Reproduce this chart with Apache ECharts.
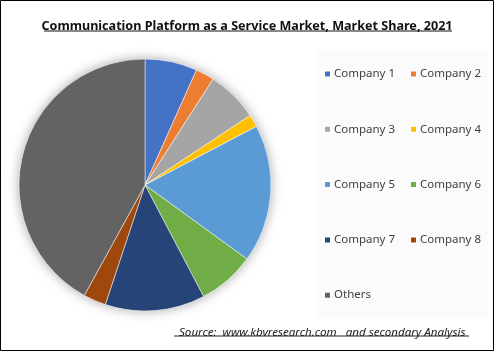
<!DOCTYPE html>
<html><head><meta charset="utf-8">
<script src="https://cdn.jsdelivr.net/npm/echarts@6/dist/echarts.min.js"></script>
<style>html,body{margin:0;padding:0;background:#fff}#c{width:494px;height:351px}</style>
</head><body><div id="c"></div>
<script>
const categories = ['Company 1','Company 2','Company 3','Company 4','Company 5','Company 6','Company 7','Company 8','Others'];
const shares = [6.7, 2.4, 6.6, 1.6, 17.7, 7.3, 12.8, 2.9, 42.0];
const colors = ['#4472C4','#ED7D31','#A5A5A5','#FFC000','#5B9BD5','#70AD47','#264478','#9E480E','#636363'];
const titleText = 'Communication Platform as a Service Market, Market Share, 2021';
const sourceText = 'Source:  www.kbvresearch.com   and secondary Analysis';

const chart = echarts.init(document.getElementById('c'));
const font = '"Noto Sans", sans-serif';
const legendCommon = {
  orient: 'vertical', top: 68, padding: 0, itemWidth: 7, itemHeight: 7, itemGap: 43.3,
  icon: 'rect', textStyle: {fontFamily: font, fontSize: 11.5, color: '#404040', padding: [0,0,0,-2]}
};
chart.setOption({
  animation: false,
  backgroundColor: '#fff',
  title: [{
    text: titleText, left: 'center', top: 15,
    textStyle: {fontFamily: font, fontWeight: 'bold', fontSize: 12.6, color: '#111'}
  }, {
    text: sourceText, left: 174, top: 322,
    textStyle: {fontFamily: font, fontStyle: 'italic', fontWeight: 'normal', fontSize: 11.6, color: '#222'}
  }],
  legend: [
    Object.assign({}, legendCommon, {left: 323, data: categories.filter((c,i)=>i%2===0)}),
    Object.assign({}, legendCommon, {left: 409, data: categories.filter((c,i)=>i%2===1)})
  ],
  graphic: [
    {type: 'rect', shape: {x: 0.5, y: 0.5, width: 493, height: 350}, style: {fill: 'none', stroke: '#000', lineWidth: 1}, z: 100},
    {type: 'rect', shape: {x: 316, y: 50, width: 172, height: 268}, style: {fill: '#fbfbfb'}, z: -10},
    {type: 'line', shape: {x1: 44, y1: 31, x2: 452, y2: 31}, style: {stroke: '#111', lineWidth: 1}},
    {type: 'line', shape: {x1: 174, y1: 336, x2: 469, y2: 336}, style: {stroke: '#222', lineWidth: 1}}
  ],
  series: [{
    type: 'pie', silent: true, center: [145, 185], radius: 126, z: 1,
    label: {show: false}, labelLine: {show: false},
    itemStyle: {color: '#fff', shadowBlur: 12, shadowColor: 'rgba(0,0,0,0.35)'},
    data: [{value: 1, name: '_bg'}]
  }, {
    type: 'pie', center: [145, 185], radius: 126, startAngle: 90, clockwise: true, z: 2,
    label: {show: false}, labelLine: {show: false},
    itemStyle: {borderColor: '#fff', borderWidth: 0.5},
    data: categories.map((c, i) => ({name: c, value: shares[i], itemStyle: {color: colors[i]}}))
  }]
});
</script></body></html>
